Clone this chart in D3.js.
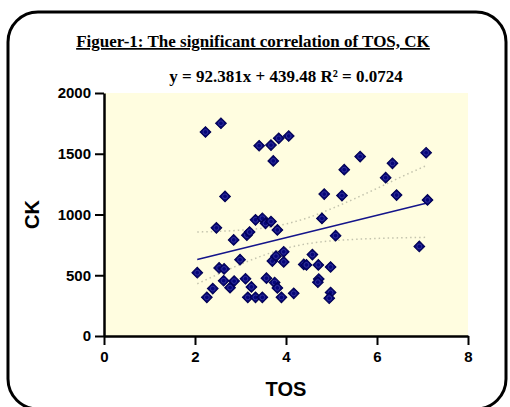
<!DOCTYPE html>
<html>
<head>
<meta charset="utf-8">
<script src="https://cdn.jsdelivr.net/npm/d3@7"></script>
<style>
  body { margin: 0; background: #fff; }
</style>
</head>
<body>
<div id="chart"></div>
<script>
// TOS values
var tos = [2.23, 2.57, 3.41, 3.67, 3.84, 4.06, 3.72, 2.66, 5.63, 5.28,
           6.34, 6.19, 7.08, 4.84, 5.23, 6.43, 7.11, 4.79, 2.47, 3.33,
           3.48, 3.55, 3.67, 3.81, 2.85, 3.14, 3.20, 2.99, 3.70, 3.78,
           3.95, 3.95, 4.39, 2.05, 2.53, 2.64, 2.39, 2.26, 2.63, 2.77,
           2.86, 3.11, 3.24, 3.16, 3.33, 3.48, 3.57, 3.75, 3.81, 3.90,
           4.17, 5.09, 6.93, 4.58, 4.45, 4.71, 4.98, 4.72, 4.70, 4.98, 4.95];
// CK values
var ck = [1679, 1751, 1566, 1571, 1627, 1646, 1441, 1149, 1477, 1369,
          1421, 1303, 1508, 1168, 1156, 1160, 1120, 968, 890, 956,
          969, 927, 942, 873, 791, 830, 856, 628, 617, 657,
          693, 610, 589, 521, 560, 552, 390, 318, 455, 398,
          452, 471, 404, 318, 318, 318, 476, 440, 396, 318,
          351, 826, 737, 670, 585, 585, 568, 469, 443, 358, 311];

// confidence band
var bandX = [2.05, 2.5, 3, 3.5, 4, 4.5, 5, 5.5, 6, 6.5, 7.1];
var bandUpper = [856, 861, 871, 888, 922, 976, 1048, 1129, 1215, 1304, 1405];
var bandLower = [430, 507, 590, 663, 722, 761, 783, 795, 803, 808, 812];

var slope = 92.381, intercept = 439.48;
var lineX = [2.05, 7.1];

var xTicks = [0, 2, 4, 6, 8];
var yTicks = [0, 500, 1000, 1500, 2000];

var svgWidth = 510, svgHeight = 407;
var margin = {top: 93, right: 42, bottom: 71, left: 104};
var width = svgWidth - margin.left - margin.right;
var height = svgHeight - margin.top - margin.bottom;

var svg = d3.select("#chart").append("svg")
  .attr("width", svgWidth)
  .attr("height", svgHeight);

// rounded frame
svg.append("rect")
  .attr("x", 8).attr("y", 12)
  .attr("width", 498).attr("height", 397)
  .attr("rx", 30).attr("ry", 30)
  .attr("fill", "none")
  .attr("stroke", "#000")
  .attr("stroke-width", 3);

// title
svg.append("text")
  .attr("x", 253).attr("y", 47)
  .attr("text-anchor", "middle")
  .style("font-family", "'Liberation Serif', 'Times New Roman', serif")
  .style("font-weight", "bold")
  .style("font-size", "17px")
  .style("text-decoration", "underline")
  .text("Figuer-1: The significant correlation of TOS, CK");

svg.append("text")
  .attr("x", 286).attr("y", 82)
  .attr("text-anchor", "middle")
  .style("font-family", "'Liberation Serif', 'Times New Roman', serif")
  .style("font-weight", "bold")
  .style("font-size", "17px")
  .text("y = 92.381x + 439.48 R² = 0.0724");

var chartGroup = svg.append("g")
  .attr("transform", `translate(${margin.left}, ${margin.top})`);

var x = d3.scaleLinear().domain([0, 8]).range([0, width]);
var y = d3.scaleLinear().domain([0, 2000]).range([height, 0]);

chartGroup.append("rect")
  .attr("width", width).attr("height", height)
  .attr("fill", "#fffde0");

// confidence band
var band = d3.line().x(d => x(d[0])).y(d => y(d[1])).curve(d3.curveMonotoneX);
[bandUpper, bandLower].forEach(function(vals) {
  chartGroup.append("path")
    .datum(bandX.map((v, i) => [v, vals[i]]))
    .attr("d", band)
    .attr("fill", "none")
    .attr("stroke", "#c4c4ae")
    .attr("stroke-width", 1.5)
    .attr("stroke-dasharray", "1.5,3");
});

// trend line
chartGroup.append("line")
  .attr("x1", x(lineX[0])).attr("y1", y(slope * lineX[0] + intercept))
  .attr("x2", x(lineX[1])).attr("y2", y(slope * lineX[1] + intercept))
  .attr("stroke", "#14148a")
  .attr("stroke-width", 1.5);

// points
var diamond = d3.symbol().type(d3.symbolSquare).size(58);
var pts = chartGroup.selectAll(".pt")
  .data(tos.map((v, i) => [v, ck[i]]))
  .enter().append("g")
  .attr("class", "pt")
  .attr("transform", d => `translate(${x(d[0])}, ${y(d[1])})`);

pts.append("path")
  .attr("d", diamond)
  .attr("transform", "rotate(45)")
  .attr("fill", "#06067a")
  .attr("stroke", "#000050")
  .attr("stroke-width", 1);

pts.append("circle")
  .attr("r", 2.4)
  .attr("fill", "none")
  .attr("stroke", "#4040a0")
  .attr("stroke-width", 0.7);

// axes
var bottomAxis = d3.axisBottom(x).tickValues(xTicks).tickFormat(d3.format("d"))
  .tickSize(9).tickSizeOuter(0).tickPadding(6);
var leftAxis = d3.axisLeft(y).tickValues(yTicks).tickFormat(d3.format("d"))
  .tickSize(9).tickSizeOuter(0).tickPadding(4);

var xg = chartGroup.append("g")
  .attr("transform", `translate(0, ${height})`)
  .call(bottomAxis);
var yg = chartGroup.append("g").call(leftAxis);

[xg, yg].forEach(function(g) {
  g.select(".domain").attr("stroke", "#000").attr("stroke-width", 2.5);
  g.selectAll(".tick line").attr("stroke", "#000").attr("stroke-width", 2);
  g.selectAll(".tick text")
    .style("font-family", "'Liberation Sans', Arial, sans-serif")
    .style("font-weight", "bold")
    .style("font-size", "15px")
    .attr("fill", "#000");
});

// axis labels
chartGroup.append("text")
  .attr("transform", "rotate(-90)")
  .attr("x", -(height / 2))
  .attr("y", -margin.left + 39)
  .attr("text-anchor", "middle")
  .style("font-family", "'Liberation Sans', Arial, sans-serif")
  .style("font-weight", "bold")
  .style("font-size", "20px")
  .text("CK");

chartGroup.append("text")
  .attr("x", x(4))
  .attr("y", height + 60)
  .attr("text-anchor", "middle")
  .style("font-family", "'Liberation Sans', Arial, sans-serif")
  .style("font-weight", "bold")
  .style("font-size", "20px")
  .text("TOS");
</script>
</body>
</html>
